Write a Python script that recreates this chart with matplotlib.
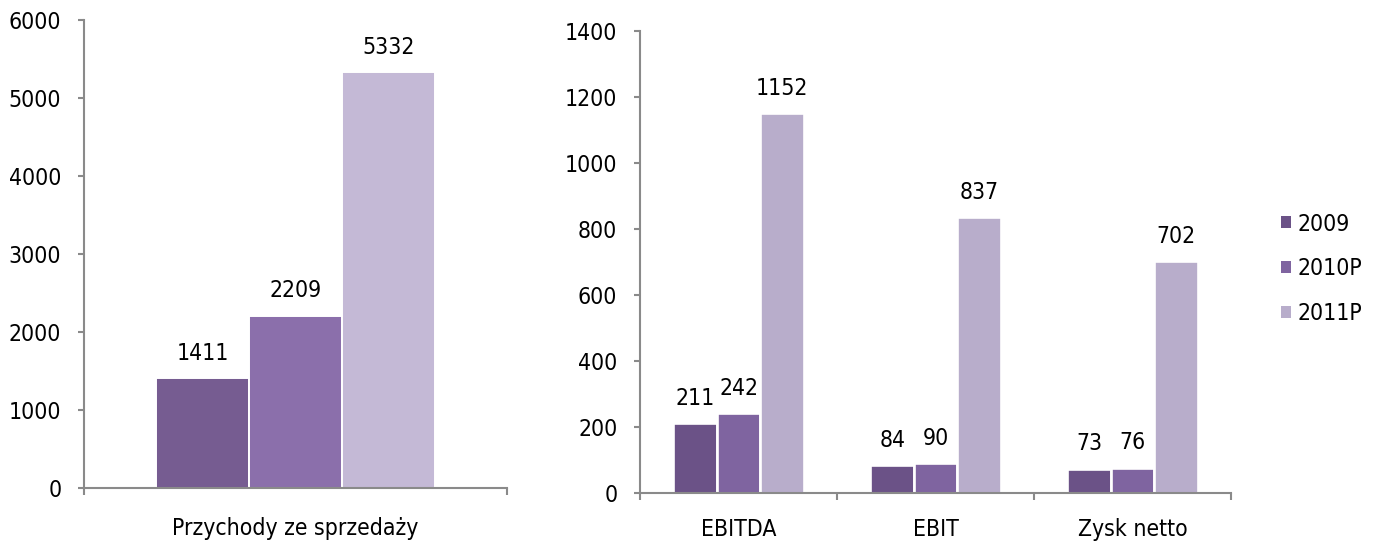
import matplotlib
matplotlib.use("Agg")
import matplotlib.pyplot as plt
import matplotlib.font_manager as fm
from matplotlib.patches import Patch

# --- dane ---
serie = ["2009", "2010P", "2011P"]
przychody = [1411, 2209, 5332]
kategorie = ["EBITDA", "EBIT", "Zysk netto"]
wyniki = {
    "2009": [211, 84, 73],
    "2010P": [242, 90, 76],
    "2011P": [1152, 837, 702],
}
lewe_yticks = [0, 1000, 2000, 3000, 4000, 5000, 6000]
prawe_yticks = [0, 200, 400, 600, 800, 1000, 1200, 1400]

KOL_L = ["#765c91", "#8b6fab", "#c4b9d6"]
KOL_P = ["#6b5287", "#7f64a0", "#b8adcb"]
OS = "#8a8a8a"
FS = 16.5

# czcionka zbliżona do Tahomy
cond = [f for f in fm.fontManager.ttflist if "DejaVuSansCondensed.ttf" in f.fname]
if cond:
    plt.rcParams["font.family"] = "DejaVu Sans"
    plt.rcParams["font.stretch"] = "condensed"
else:
    plt.rcParams["font.family"] = "Liberation Sans"
plt.rcParams["font.size"] = FS


def styl_osi(ax, granice, pad_x):
    for s in ["top", "right"]:
        ax.spines[s].set_visible(False)
    for s in ["left", "bottom"]:
        ax.spines[s].set_color(OS)
        ax.spines[s].set_linewidth(1.5)
    ax.tick_params(axis="y", direction="out", length=4.3, width=1.5, color=OS,
                   pad=12, labelsize=FS)
    ax.set_xticks(granice)
    ax.set_xticklabels([])
    ax.tick_params(axis="x", which="major", direction="out", length=5, width=1.5, color=OS)
    ax.tick_params(axis="x", which="minor", length=0, pad=pad_x, labelsize=FS)


def etykiety(ax, bars, wartosci):
    for b, v in zip(bars, wartosci):
        ax.annotate(f"{v}", (b.get_x() + b.get_width() / 2, b.get_height()),
                    xytext=(0, 13), textcoords="offset points",
                    ha="center", va="baseline", fontsize=FS)


fig = plt.figure(figsize=(13.76, 5.43), dpi=100)
ax1 = fig.add_axes([0.06105, 0.10184, 0.30741, 0.86133])
ax2 = fig.add_axes([0.46512, 0.09282, 0.42951, 0.85009])

# lewy wykres: przychody
w = 0.22
for i, (v, c) in enumerate(zip(przychody, KOL_L)):
    b = ax1.bar((i - 1) * w, v, width=w, color=c, edgecolor="white", linewidth=1.4, zorder=2)
    etykiety(ax1, b, [v])
ax1.set_xlim(-0.5, 0.5)
ax1.set_ylim(0, 6000)
ax1.set_yticks(lewe_yticks)
styl_osi(ax1, [-0.5, 0.5], 21)
ax1.set_xticks([0], minor=True)
ax1.set_xticklabels(["Przychody ze sprzedaży"], minor=True)

# prawy wykres: EBITDA, EBIT, zysk netto
x = list(range(len(kategorie)))
for i, (s, c) in enumerate(zip(serie, KOL_P)):
    pos = [xx + (i - 1) * w for xx in x]
    b = ax2.bar(pos, wyniki[s], width=w, color=c, edgecolor="white", linewidth=1.9, zorder=2)
    etykiety(ax2, b, wyniki[s])
ax2.set_xlim(-0.5, len(kategorie) - 0.5)
ax2.set_ylim(0, 1400)
ax2.set_yticks(prawe_yticks)
styl_osi(ax2, [k - 0.5 for k in range(len(kategorie) + 1)], 18)
ax2.set_xticks(x, minor=True)
ax2.set_xticklabels(kategorie, minor=True)

uchwyty = [Patch(facecolor=c, edgecolor="none") for c in KOL_P]
fig.legend(uchwyty, serie, loc="center left", bbox_to_anchor=(0.931, 0.505),
           frameon=False, fontsize=FS, handlelength=0.43, handleheight=0.43,
           handletextpad=0.3, labelspacing=0.95, borderpad=0, borderaxespad=0)

fig.savefig("out.png", dpi=100)
plt.close(fig)
